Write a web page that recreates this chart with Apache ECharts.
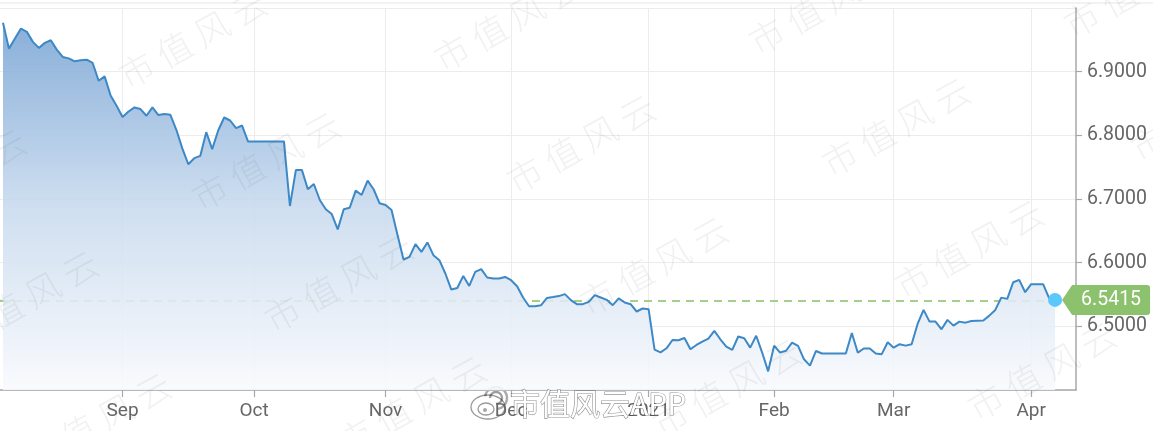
<!DOCTYPE html>
<html>
<head>
<meta charset="utf-8">
<script src="https://cdn.jsdelivr.net/npm/echarts@6/dist/echarts.min.js"></script>
<style>
html,body{margin:0;padding:0;background:#fff;}
#chart{width:1153px;height:431px;}
</style>
</head>
<body>
<div id="chart"></div>
<script>
// Trading-day calendar (weekdays) shown on the x axis
const monthDays = [
  ['2020-08', [4,5,6,7,10,11,12,13,14,17,18,19,20,21,24,25,26,27,28,31]],
  ['2020-09', [1,2,3,4,7,8,9,10,11,14,15,16,17,18,21,22,23,24,25,28,29,30]],
  ['2020-10', [1,2,5,6,7,8,9,12,13,14,15,16,19,20,21,22,23,26,27,28,29,30]],
  ['2020-11', [2,3,4,5,6,9,10,11,12,13,16,17,18,19,20,23,24,25,26,27,30]],
  ['2020-12', [1,2,3,4,7,8,9,10,11,14,15,16,17,18,21,22,23,24,25,28,29,30,31]],
  ['2021-01', [1,4,5,6,7,8,11,12,13,14,15,18,19,20,21,22,25,26,27,28,29]],
  ['2021-02', [1,2,3,4,5,8,9,10,11,12,15,16,17,18,19,22,23,24,25,26]],
  ['2021-03', [1,2,3,4,5,8,9,10,11,12,15,16,17,18,19,22,23,24,25,26,29,30,31]],
  ['2021-04', [1,2,5,6,7,8,9,12]]
];
const categories = [];
monthDays.forEach(function (m) {
  m[1].forEach(function (d) { categories.push(m[0] + '-' + (d < 10 ? '0' + d : d)); });
});

// Month tick positions and their labels
const tickDates  = ['2020-09-01','2020-10-01','2020-11-02','2020-12-01','2021-01-01','2021-02-01','2021-03-01','2021-04-01'];
const tickLabels = ['Sep','Oct','Nov','Dec','2021','Feb','Mar','Apr'];

// USD/CNY close per trading day, from 2020-08-04
const rates = [
  6.9767, 6.9362, 6.9520, 6.9677, 6.9625, 6.9468, 6.9373, 6.9452, 6.9493, 6.9346,
  6.9231, 6.9209, 6.9162, 6.9178, 6.9189, 6.9137, 6.8858, 6.8926, 6.8627, 6.8465,
  6.8287, 6.8375, 6.8438, 6.8413, 6.8307, 6.8438, 6.8318, 6.8334, 6.8323, 6.8087,
  6.7795, 6.7546, 6.7641, 6.7677, 6.8050, 6.7783, 6.8076, 6.8280, 6.8233, 6.8113,
  6.8154, 6.7902, 6.7902, 6.7902, 6.7902, 6.7902, 6.7902, 6.7902, 6.6890, 6.7457,
  6.7457, 6.7153, 6.7236, 6.6984, 6.6838, 6.6764, 6.6523, 6.6838, 6.6863, 6.7131,
  6.7063, 6.7288, 6.7153, 6.6932, 6.6906, 6.6827, 6.6433, 6.6050, 6.6091, 6.6291,
  6.6170, 6.6318, 6.6118, 6.6039, 6.5830, 6.5578, 6.5603, 6.5792, 6.5635, 6.5855,
  6.5898, 6.5767, 6.5751, 6.5751, 6.5776, 6.5724, 6.5630, 6.5452, 6.5315, 6.5315,
  6.5331, 6.5446, 6.5460, 6.5475, 6.5506, 6.5411, 6.5348, 6.5348, 6.5384, 6.5490,
  6.5453, 6.5416, 6.5332, 6.5438, 6.5375, 6.5348, 6.5233, 6.5280, 6.5269, 6.4635,
  6.4590, 6.4655, 6.4785, 6.4781, 6.4817, 6.4640, 6.4707, 6.4761, 6.4808, 6.4928,
  6.4797, 6.4682, 6.4629, 6.4840, 6.4813, 6.4666, 6.4852, 6.4588, 6.4293, 6.4696,
  6.4588, 6.4616, 6.4745, 6.4692, 6.4482, 6.4383, 6.4613, 6.4574, 6.4574, 6.4574,
  6.4574, 6.4574, 6.4896, 6.4586, 6.4652, 6.4652, 6.4574, 6.4563, 6.4750, 6.4665,
  6.4719, 6.4697, 6.4719, 6.5038, 6.5258, 6.5074, 6.5074, 6.4954, 6.5101, 6.5011,
  6.5074, 6.5058, 6.5085, 6.5088, 6.5090, 6.5168, 6.5258, 6.5451, 6.5431, 6.5693,
  6.5730, 6.5536, 6.5662, 6.5662, 6.5662, 6.5442, 6.5415
];

// Y axis ticks
const yMin = 6.4, yMax = 7.0, yStep = 0.1;

const lastIdx = rates.length - 1;
const lastDate = categories[lastIdx];
const lastRate = rates[lastIdx];

const isTick = function (idx, val) { return tickDates.indexOf(val) >= 0; };

// Watermark centres (decoration)
const wmCenters = [
  [193, 39], [508, 22], [823, 5], [1138, -12],
  [-48, 178], [266, 161], [581, 144], [896, 127], [1205, 112],
  [24, 300], [339, 283], [654, 266], [969, 249],
  [97, 422], [412, 405], [727, 388], [1042, 371]
];
const wmElements = wmCenters.map(function (c) {
  return {
    type: 'text', x: c[0], y: c[1], rotation: 29 * Math.PI / 180, z: 100, silent: true,
    style: {
      text: '市 值 风 云', fill: 'rgba(90,90,90,0.085)',
      font: '300 35px "Noto Sans CJK SC"', textAlign: 'center', textVerticalAlign: 'middle'
    }
  };
});

// Weibo-style logo + brand text at the bottom
const logoElements = [
  { type: 'group', x: 488, y: 405, z: 101, silent: true, children: [
    { type: 'ellipse', shape: { cx: 0, cy: 2, rx: 17, ry: 12 }, style: { fill: '#fff', stroke: 'rgba(0,0,0,0.4)', lineWidth: 1.3 } },
    { type: 'ellipse', shape: { cx: -2, cy: 4, rx: 8, ry: 6 }, style: { fill: '#fff', stroke: 'rgba(0,0,0,0.4)', lineWidth: 1.3 } },
    { type: 'circle', shape: { cx: -3, cy: 5, r: 2 }, style: { fill: 'rgba(0,0,0,0.35)' } },
    { type: 'arc', shape: { cx: 8, cy: -7, r: 6, startAngle: -Math.PI, endAngle: Math.PI / 2, clockwise: true }, style: { fill: 'none', stroke: 'rgba(0,0,0,0.38)', lineWidth: 2.4 } },
    { type: 'arc', shape: { cx: 8, cy: -7, r: 11, startAngle: -Math.PI * 0.95, endAngle: Math.PI * 0.45, clockwise: true }, style: { fill: 'none', stroke: 'rgba(0,0,0,0.33)', lineWidth: 2.4 } }
  ]},
  { type: 'text', x: 510, y: 404, z: 101, silent: true,
    style: { text: '市值风云APP', font: '30px "Noto Sans CJK SC"', fill: '#ffffff',
      stroke: 'rgba(0,0,0,0.45)', lineWidth: 1.2, textAlign: 'left', textVerticalAlign: 'middle' } }
];

const chart = echarts.init(document.getElementById('chart'), null, { renderer: 'canvas' });
chart.setOption({
  animation: false,
  backgroundColor: '#fff',
  textStyle: { fontFamily: 'Roboto' },
  grid: { left: 0, right: 77, top: 8, bottom: 41, containLabel: false },
  graphic: [
    { type: 'line', shape: { x1: 0, y1: 3, x2: 1153, y2: 3 }, style: { stroke: '#e6e6e6', lineWidth: 1 }, z: 0, silent: true }
  ].concat(wmElements, logoElements),
  xAxis: {
    type: 'category',
    data: categories,
    boundaryGap: true,
    axisLine: { show: true, lineStyle: { color: '#a8a8a8', width: 1.5 } },
    axisTick: { show: true, interval: isTick, alignWithLabel: true, length: 7, lineStyle: { color: '#a8a8a8', width: 1.2 } },
    axisLabel: {
      interval: isTick, margin: 12, color: '#666', fontSize: 19, fontFamily: 'Roboto',
      formatter: function (v) { var i = tickDates.indexOf(v); return i >= 0 ? tickLabels[i] : ''; }
    },
    splitLine: { show: true, interval: isTick, alignWithLabel: true, lineStyle: { color: '#ececec', width: 1 } }
  },
  yAxis: {
    type: 'value',
    position: 'right',
    min: yMin, max: yMax, interval: yStep,
    axisLine: { show: true, lineStyle: { color: '#a8a8a8', width: 1.5 } },
    axisTick: { show: true, length: 6, lineStyle: { color: '#a8a8a8', width: 1.2 } },
    axisLabel: {
      margin: 11, color: '#666', fontSize: 19.5, fontFamily: 'Roboto',
      showMinLabel: false, showMaxLabel: false,
      formatter: function (v) { return v.toFixed(4); }
    },
    splitLine: { show: true, lineStyle: { color: '#ececec', width: 1 } }
  },
  series: [{
    type: 'line',
    data: rates,
    showSymbol: false,
    symbol: 'none',
    z: 2,
    lineStyle: { color: '#3d88c6', width: 2 },
    areaStyle: {
      opacity: 0.88,
      color: new echarts.graphic.LinearGradient(0, 0, 0, 1, [
        { offset: 0, color: 'rgb(120,164,212)' },
        { offset: 0.5, color: 'rgb(200,218,238)' },
        { offset: 1, color: 'rgb(248,250,253)' }
      ])
    },
    markLine: {
      silent: true, z: 1, symbol: 'none',
      label: { show: false },
      lineStyle: { color: '#a3d18b', type: [8, 6], width: 2 },
      data: [{ yAxis: lastRate }]
    },
    markPoint: {
      silent: true,
      data: [
        {
          coord: [lastDate, lastRate], value: lastRate,
          symbol: 'path://M0 15 L10 0 L85 0 Q88 0 88 3 L88 27 Q88 30 85 30 L10 30 Z',
          symbolSize: [88, 30], symbolOffset: [51, 0],
          itemStyle: { color: '#8cc26d' },
          label: { show: true, position: 'inside', offset: [5, 0], color: '#fff', fontSize: 19.5, fontFamily: 'Roboto',
            formatter: function (p) { return Number(p.value).toFixed(4); } }
        },
        {
          coord: [lastDate, lastRate], value: lastRate,
          symbol: 'circle', symbolSize: 14,
          itemStyle: { color: '#5ac8fa' },
          label: { show: false }
        }
      ]
    }
  }]
});
</script>
</body>
</html>
